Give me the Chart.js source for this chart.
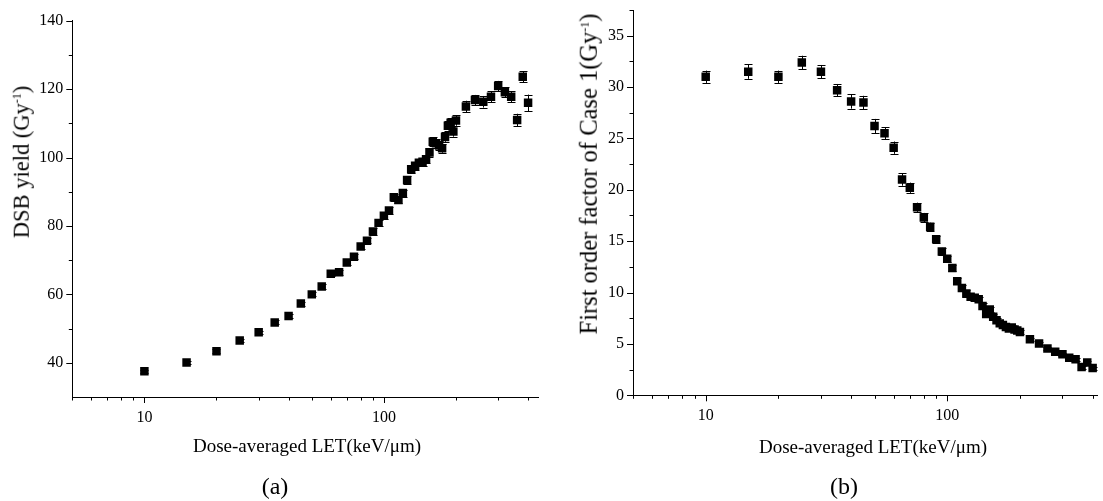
<!DOCTYPE html>
<html>
<head>
<meta charset="utf-8">
<script src="https://cdn.jsdelivr.net/npm/chart.js@4.4.0/dist/chart.umd.min.js"></script>
<style>
    body { margin: 0; background: #fff; }
    #wrap { position: relative; width: 1103px; height: 501px; overflow: hidden;
            font-family: 'Liberation Serif', 'Times New Roman', serif; color: #000; }
    canvas { position: absolute; top: 0; }
    .lbl { position: absolute; white-space: nowrap; font-size: 19px; line-height: 1; transform: translate(-50%, -50%); }
    .ylbl { font-size: 22.5px; transform: translate(-50%, -50%) rotate(-90deg); }
    .panel { font-size: 24px; }
    sup { font-size: 12px; vertical-align: 0.65em; line-height: 0; }
</style>
</head>
<body>
<div id="wrap">
    <canvas id="chartA" width="551" height="501" style="left:0px"></canvas>
    <canvas id="chartB" width="552" height="501" style="left:551px"></canvas>
    <div class="lbl ylbl" style="left:22px; top:162px">DSB yield (Gy<sup>-1</sup>)</div>
    <div class="lbl ylbl" style="left:589px; top:174px; font-size:24.5px">First order factor of Case 1(Gy<sup>-1</sup>)</div>
    <div class="lbl" style="left:307px; top:445px">Dose-averaged LET(keV/μm)</div>
    <div class="lbl" style="left:873px; top:446px">Dose-averaged LET(keV/μm)</div>
    <div class="lbl panel" style="left:275px; top:486px">(a)</div>
    <div class="lbl panel" style="left:844px; top:486px">(b)</div>
</div>
<script>
// dose-averaged LET (keV/um)
const letValues = [10, 15, 20, 25, 30, 35, 40, 45, 50, 55, 60, 65, 70, 75, 80, 85, 90, 95, 100,
    105, 110, 115, 120, 125, 130, 135, 140, 145, 150, 155, 160, 165, 170, 175, 180, 185, 190, 195, 200,
    220, 240, 260, 280, 300, 320, 340, 360, 380, 400]

// panel (a): DSB yield
const dsbYield = [37.5, 40.1, 43.4, 46.5, 48.9, 51.8, 53.7, 57.3, 60.0, 62.3, 66.0, 66.5, 69.3, 71.0, 74.0, 75.7, 78.4, 80.9, 83.0,
    84.5, 88.4, 87.6, 89.6, 93.4, 96.6, 97.6, 98.5, 98.8, 99.5, 101.5, 104.6, 104.2, 103.5, 102.7, 106.0, 109.3, 110.2, 107.6, 110.8,
    114.9, 116.8, 116.3, 117.8, 120.9, 119.1, 117.8, 111.0, 123.6, 116.0]
const dsbError = [0.5, 0.5, 0.5, 0.5, 0.5, 0.6, 0.6, 0.6, 0.6, 0.7, 0.7, 0.7, 0.8, 0.8, 0.8, 0.8, 0.9, 0.9, 0.9,
    1.0, 1.0, 1.0, 1.0, 1.1, 1.1, 1.1, 1.1, 1.2, 1.2, 1.2, 1.3, 1.3, 1.3, 1.3, 1.4, 1.4, 1.4, 1.5, 1.5,
    1.7, 1.5, 1.7, 1.6, 1.5, 1.5, 1.6, 1.8, 1.6, 2.4]

// panel (b): first order factor of case 1
const factorCase1 = [31.0, 31.5, 31.0, 32.4, 31.5, 29.7, 28.6, 28.5, 26.2, 25.5, 24.1, 21.0, 20.2, 18.3, 17.3, 16.4, 15.2, 14.0, 13.3,
    12.4, 11.1, 10.45, 9.9, 9.6, 9.5, 9.35, 8.7, 7.9, 8.35, 7.65, 7.3, 7.0, 6.85, 6.65, 6.5, 6.6, 6.4, 6.3, 6.15,
    5.45, 5.05, 4.55, 4.25, 4.0, 3.65, 3.5, 2.75, 3.2, 2.65]
const factorError = [0.6, 0.7, 0.6, 0.65, 0.65, 0.6, 0.7, 0.65, 0.7, 0.6, 0.6, 0.6, 0.5, 0.45, 0.45, 0.4, 0.35, 0.35, 0.3,
    0.3, 0.3, 0.3, 0.3, 0.25, 0.25, 0.25, 0.25, 0.25, 0.25, 0.25, 0.2, 0.2, 0.2, 0.2, 0.2, 0.2, 0.2, 0.2, 0.2,
    0.15, 0.15, 0.15, 0.15, 0.15, 0.15, 0.15, 0.15, 0.15, 0.15]

// axis ticks
const xMajorTicks = [10, 100]
const xMinorTicks = [5, 6, 7, 8, 9, 20, 30, 40, 50, 60, 70, 80, 90, 200, 300, 400]
const yMajorTicksA = [40, 60, 80, 100, 120, 140]
const yMinorTicksA = [50, 70, 90, 110, 130]
const yMajorTicksB = [0, 5, 10, 15, 20, 25, 30, 35]
const yMinorTicksB = [2.5, 7.5, 12.5, 17.5, 22.5, 27.5, 32.5, 37.5]

Chart.defaults.font.family = "'Liberation Serif', 'Times New Roman', serif"
Chart.defaults.color = '#000'

function px(v) {
    return Math.round(v) + 0.5
}

// origin-style outward ticks, long for major, short for minor
const axisTicks = {
    id: 'axisTicks',
    afterDraw(chart, args, opts) {
        const ctx = chart.ctx
        const xs = chart.scales.x
        const ys = chart.scales.y
        const area = chart.chartArea
        ctx.save()
        ctx.strokeStyle = '#000'
        ctx.lineWidth = 1
        ctx.beginPath()
        const xTick = (v, len) => {
            const x = px(xs.getPixelForValue(v))
            ctx.moveTo(x, area.bottom)
            ctx.lineTo(x, area.bottom + len)
        }
        const yTick = (v, len) => {
            const y = px(ys.getPixelForValue(v))
            ctx.moveTo(area.left, y)
            ctx.lineTo(area.left - len, y)
        }
        opts.xMajor.forEach(v => xTick(v, 6))
        opts.xMinor.forEach(v => xTick(v, 3.5))
        opts.yMajor.forEach(v => yTick(v, 6))
        opts.yMinor.forEach(v => yTick(v, 3.5))
        ctx.stroke()
        ctx.restore()
    }
}

// vertical error bars with caps, drawn under the markers
const errorBars = {
    id: 'errorBars',
    beforeDatasetsDraw(chart) {
        const ctx = chart.ctx
        const ys = chart.scales.y
        ctx.save()
        ctx.strokeStyle = '#000'
        ctx.lineWidth = 1
        chart.data.datasets.forEach((ds, i) => {
            const meta = chart.getDatasetMeta(i)
            meta.data.forEach((el, j) => {
                const value = ds.data[j].y
                const err = ds.errors[j]
                const top = ys.getPixelForValue(value + err)
                const bottom = ys.getPixelForValue(value - err)
                const x = px(el.x)
                ctx.beginPath()
                ctx.moveTo(x, top)
                ctx.lineTo(x, bottom)
                ctx.moveTo(x - 4, px(top))
                ctx.lineTo(x + 4, px(top))
                ctx.moveTo(x - 4, px(bottom))
                ctx.lineTo(x + 4, px(bottom))
                ctx.stroke()
            })
        })
        ctx.restore()
    }
}

function makeChart(canvasId, values, errors, cfg) {
    const points = letValues.map((l, i) => ({ x: l, y: values[i] }))
    return new Chart(document.getElementById(canvasId), {
        type: 'scatter',
        data: {
            datasets: [{
                data: points,
                errors: errors,
                pointStyle: 'rect',
                pointRadius: 6,
                pointHoverRadius: 6,
                backgroundColor: '#000',
                borderWidth: 0,
            }]
        },
        options: {
            responsive: false,
            animation: false,
            devicePixelRatio: 1,
            layout: { padding: cfg.padding },
            plugins: {
                legend: { display: false },
                tooltip: { enabled: false },
                axisTicks: {
                    xMajor: xMajorTicks,
                    xMinor: xMinorTicks,
                    yMajor: cfg.yMajor,
                    yMinor: cfg.yMinor,
                },
            },
            scales: {
                x: {
                    type: 'logarithmic',
                    min: 5,
                    max: cfg.xMax,
                    afterBuildTicks: scale => {
                        scale.ticks = xMajorTicks.map(v => ({ value: v }))
                    },
                    afterFit: scale => {
                        scale.height = cfg.xHeight
                        scale.paddingLeft = 0
                        scale.paddingRight = 0
                    },
                    ticks: {
                        font: { size: 16 },
                        padding: 5,
                        maxRotation: 0,
                        callback: v => String(v),
                    },
                    grid: {
                        display: true,
                        drawOnChartArea: false,
                        drawTicks: true,
                        tickLength: 6,
                        tickColor: 'rgba(0,0,0,0)',
                    },
                    border: { display: true, color: '#000', width: 1 },
                },
                y: {
                    type: 'linear',
                    min: cfg.yMin,
                    max: cfg.yMax,
                    afterBuildTicks: scale => {
                        scale.ticks = cfg.yMajor.map(v => ({ value: v }))
                    },
                    afterFit: scale => {
                        scale.width = cfg.yWidth
                        scale.paddingTop = 0
                        scale.paddingBottom = 0
                    },
                    ticks: {
                        font: { size: 16 },
                        padding: 3,
                        callback: v => String(v),
                    },
                    grid: {
                        display: true,
                        drawOnChartArea: false,
                        drawTicks: true,
                        tickLength: 6,
                        tickColor: 'rgba(0,0,0,0)',
                    },
                    border: { display: true, color: '#000', width: 1 },
                },
            },
        },
        plugins: [errorBars, axisTicks],
    })
}

makeChart('chartA', dsbYield, dsbError, {
    padding: { left: 0, top: 20.7, right: 13, bottom: 0 },
    xMax: 440,
    xHeight: 104,
    yMin: 30,
    yMax: 140,
    yWidth: 72.3,
    yMajor: yMajorTicksA,
    yMinor: yMinorTicksA,
})

makeChart('chartB', factorCase1, factorError, {
    padding: { left: 0, top: 10, right: 0, bottom: 0 },
    xMax: 417,
    xHeight: 105.7,
    yMin: 0,
    yMax: 37.5,
    yWidth: 82,
    yMajor: yMajorTicksB,
    yMinor: yMinorTicksB,
})
</script>
</body>
</html>
